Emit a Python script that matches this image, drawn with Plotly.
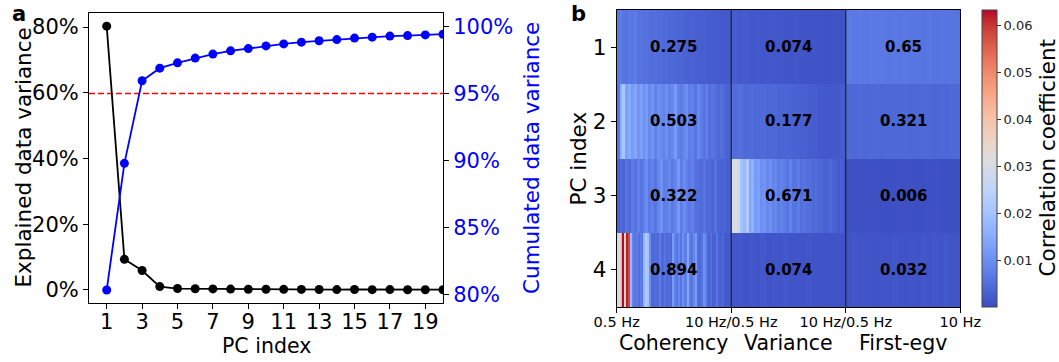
import numpy as np
import plotly.graph_objects as go

W, H = 1059, 362
FONT = "DejaVu Sans"

# ---------------- panel a data ----------------
pc_index = list(range(1, 21))
explained_pct = [80.3, 9.3, 5.9, 1.0, 0.4, 0.35, 0.3, 0.24, 0.17, 0.2,
                 0.15, 0.13, 0.1, 0.09, 0.11, 0.07, 0.08, 0.05, 0.05, 0.05]
cumulated_pct = [80.37, 89.8, 95.95, 96.89, 97.29, 97.64, 97.94, 98.18, 98.35, 98.55,
                 98.70, 98.83, 98.93, 99.02, 99.13, 99.20, 99.28, 99.32, 99.37, 99.42]
threshold_pct = 95
x_ticks_a = [1, 3, 5, 7, 9, 11, 13, 15, 17, 19]
y_ticks_left = [0, 20, 40, 60, 80]
y_ticks_right = [80, 85, 90, 95, 100]

# ---------------- panel b data ----------------
pc_rows = [1, 2, 3, 4]
feature_names = ["Coherency", "Variance", "First-egv"]
freq_tick_labels = ["0.5 Hz", "10 Hz/0.5 Hz", "10 Hz/0.5 Hz", "10 Hz"]

coherency_pc1 = [0.0065, 0.0072, 0.006, 0.0058, 0.0066, 0.0062, 0.007, 0.0055, 0.0058, 0.0052,
                 0.0056, 0.005, 0.0048, 0.0052, 0.0045, 0.0047, 0.0042, 0.0044, 0.004, 0.0041,
                 0.0038, 0.0036, 0.0037, 0.0033, 0.0032, 0.003, 0.0031, 0.0028, 0.0027, 0.0026,
                 0.0025, 0.0024, 0.0023, 0.0022, 0.0022, 0.0021, 0.002, 0.002, 0.0019, 0.0019]
variance_pc1 = [0.0025, 0.002, 0.0022, 0.0018, 0.002, 0.0016, 0.0017, 0.0015, 0.0016, 0.0014,
                0.0013, 0.0014, 0.0012, 0.0012, 0.0011, 0.0012, 0.001, 0.001, 0.0011, 0.001]
egv_pc1 = [0.0068, 0.0066, 0.0069, 0.0064, 0.0067, 0.0065, 0.0066, 0.0063, 0.0065, 0.0062,
           0.0064, 0.0061, 0.0063, 0.006, 0.0062, 0.006, 0.0061, 0.0059, 0.006, 0.0058]

coherency_pc2 = [0.006, 0.016, 0.021, 0.013, 0.015, 0.012, 0.014, 0.011, 0.013, 0.01,
                 0.012, 0.009, 0.011, 0.008, 0.01, 0.009, 0.008, 0.01, 0.008, 0.009,
                 0.012, 0.008, 0.007, 0.009, 0.01, 0.007, 0.008, 0.006, 0.009, 0.007,
                 0.006, 0.008, 0.005, 0.006, 0.005, 0.004, 0.005, 0.004, 0.003, 0.003]
variance_pc2 = [0.0045, 0.005, 0.0042, 0.0046, 0.004, 0.0043, 0.0038, 0.004, 0.0035, 0.0036,
                0.0032, 0.003, 0.0028, 0.0026, 0.0024, 0.002, 0.0018, 0.0017, 0.0019, 0.0022]
egv_pc2 = [0.0042, 0.004, 0.0044, 0.0039, 0.0041, 0.0043, 0.0038, 0.004, 0.0042, 0.0039,
           0.0041, 0.0038, 0.004, 0.0042, 0.0039, 0.0037, 0.004, 0.0038, 0.0041, 0.0039]

coherency_pc3 = [0.003, 0.0045, 0.0035, 0.006, 0.0045, 0.007, 0.0055, 0.008, 0.006, 0.0075,
                 0.0095, 0.0065, 0.008, 0.006, 0.0085, 0.0105, 0.007, 0.0075, 0.009, 0.0065,
                 0.0085, 0.0115, 0.007, 0.0095, 0.0075, 0.0065, 0.008, 0.0055, 0.005, 0.0045,
                 0.006, 0.004, 0.0045, 0.0035, 0.0055, 0.0035, 0.003, 0.0035, 0.0025, 0.003]
variance_pc3 = [0.029, 0.031, 0.028, 0.02, 0.018, 0.022, 0.014, 0.016, 0.012, 0.013,
                0.01, 0.011, 0.009, 0.01, 0.008, 0.009, 0.007, 0.008, 0.007, 0.006,
                0.008, 0.006, 0.006, 0.007, 0.005, 0.006, 0.005, 0.005, 0.004, 0.005,
                0.004, 0.004, 0.003, 0.003, 0.004, 0.003, 0.003, 0.002, 0.003, 0.002]
egv_pc3 = [0.0007, 0.0006, 0.0007, 0.0005, 0.0006, 0.0006, 0.0005, 0.0006, 0.0005, 0.0005]

coherency_pc4 = [0.030, 0.034, 0.045, 0.063, 0.036, 0.062, 0.058, 0.018, 0.008, 0.006,
                 0.007, 0.005, 0.007, 0.006, 0.017, 0.022, 0.02, 0.01, 0.004, 0.004,
                 0.005, 0.004, 0.007, 0.004, 0.004, 0.006, 0.004, 0.005, 0.004, 0.012,
                 0.008, 0.006, 0.009, 0.006, 0.01, 0.007, 0.008, 0.014, 0.007, 0.006,
                 0.009, 0.012, 0.005, 0.004, 0.006, 0.01, 0.008, 0.004, 0.003, 0.005,
                 0.003, 0.003, 0.006, 0.003, 0.003, 0.004, 0.002, 0.002, 0.002, 0.002]
variance_pc4 = [0.0014, 0.0016, 0.0012, 0.0015, 0.0013, 0.0017, 0.0012, 0.0014, 0.0013, 0.0015,
                0.0011, 0.0013, 0.0012, 0.0014, 0.0011, 0.0012, 0.001, 0.0012, 0.0011, 0.001]
egv_pc4 = [0.0012, 0.0014, 0.0011, 0.0013, 0.0012, 0.0011, 0.0013, 0.0012, 0.0014, 0.0011,
           0.0012, 0.0013, 0.0011, 0.0015, 0.0012, 0.0014, 0.0011, 0.0016, 0.0012, 0.0013]

overall_corr = [[0.275, 0.074, 0.65],
                [0.503, 0.177, 0.321],
                [0.322, 0.671, 0.006],
                [0.894, 0.074, 0.032]]
cbar_ticks = [0.01, 0.02, 0.03, 0.04, 0.05, 0.06]
c_min, c_max = 0.0, 0.0634

blocks = [[coherency_pc1, variance_pc1, egv_pc1],
          [coherency_pc2, variance_pc2, egv_pc2],
          [coherency_pc3, variance_pc3, egv_pc3],
          [coherency_pc4, variance_pc4, egv_pc4]]

coolwarm_rgb = [(59, 76, 192), (68, 90, 204), (77, 104, 215), (87, 117, 225), (98, 130, 234),
                (108, 142, 241), (119, 154, 247), (130, 165, 251), (141, 176, 254), (152, 185, 255),
                (163, 194, 255), (174, 201, 253), (184, 208, 249), (194, 213, 244), (204, 217, 238),
                (213, 219, 230), (221, 221, 221), (229, 216, 209), (236, 211, 197), (241, 204, 185),
                (245, 196, 173), (247, 187, 160), (247, 177, 148), (247, 166, 135), (244, 154, 123),
                (241, 141, 111), (236, 127, 99), (229, 112, 88), (222, 96, 77), (213, 80, 66),
                (203, 62, 56), (192, 40, 47), (180, 4, 38)]
coolwarm = [[i / (len(coolwarm_rgb) - 1), "rgb(%d,%d,%d)" % c] for i, c in enumerate(coolwarm_rgb)]


def px(x):
    return x / W


def py(y):
    return 1 - y / H


# common fine grid per block: each measured column is repeated to fill it
COLS_PER_BLOCK = 120
z_rows = []
for row in blocks:
    full = []
    for arr in row:
        full.extend(np.repeat(arr, COLS_PER_BLOCK // len(arr)).tolist())
    z_rows.append(full)
x_edges = np.linspace(0, 3, 3 * COLS_PER_BLOCK + 1)
y_edges = [pc - 0.5 for pc in pc_rows] + [pc_rows[-1] + 0.5]

fig = go.Figure()

# ---- panel a ----
fig.add_trace(go.Scatter(x=pc_index, y=explained_pct, mode="lines+markers",
                         line=dict(color="black", width=1.8),
                         marker=dict(color="black", size=9), xaxis="x", yaxis="y",
                         showlegend=False))
fig.add_trace(go.Scatter(x=pc_index, y=cumulated_pct, mode="lines+markers",
                         line=dict(color="blue", width=1.8),
                         marker=dict(color="blue", size=9), xaxis="x", yaxis="y2",
                         showlegend=False))

# ---- panel b ----
fig.add_trace(go.Heatmap(z=z_rows, x=x_edges, y=y_edges, coloraxis="coloraxis",
                         xaxis="x2", yaxis="y3", hoverinfo="skip"))


def label(xp, yp, text, size, color="black", angle=0):
    return dict(x=px(xp), y=py(yp), xref="paper", yref="paper", text=text,
                textangle=angle, showarrow=False, xanchor="center", yanchor="middle",
                font=dict(family=FONT, size=size, color=color))


annotations = []
for r, row in enumerate(overall_corr):
    for b, v in enumerate(row):
        annotations.append(dict(x=b + 0.5, y=pc_rows[r], xref="x2", yref="y3",
                                text="<b>%g</b>" % v, showarrow=False,
                                xanchor="center", yanchor="middle",
                                font=dict(family=FONT, size=15, color="black")))
for b, name in enumerate(feature_names):
    cx = 616.7 + (b + 0.5) * (960.3 - 616.7) / 3
    annotations.append(label(cx, 343, name, 20.5))

# axis titles & panel letters
annotations += [
    label(22.5, 158, "Explained data variance", 21.5, angle=-90),
    label(531, 158, "Cumulated data variance", 21.5, color="blue", angle=-90),
    label(266, 345.5, "PC index", 20.5),
    label(578, 158.5, "PC index", 21.5, angle=-90),
    label(1047, 158.5, "Correlation coefficient", 21.5, angle=-90),
    label(19, 13.5, "<b>a</b>", 21),
    label(578, 13.5, "<b>b</b>", 21),
]

shapes = [
    dict(type="line", xref="x domain", yref="y2", x0=0, x1=1, y0=threshold_pct, y1=threshold_pct,
         line=dict(color="red", width=1.5, dash="6px,3px"), layer="below"),
]
for b in [1, 2]:
    shapes.append(dict(type="line", xref="x2", yref="y3 domain", x0=b, x1=b, y0=0, y1=1,
                       line=dict(color="#222222", width=1.2)))

axis_common = dict(showgrid=False, zeroline=False, showline=True, linecolor="black",
                   linewidth=1, ticks="outside", ticklen=5, tickcolor="black",
                   automargin=False)

fig.update_layout(
    width=W, height=H,
    margin=dict(l=0, r=0, t=0, b=0, autoexpand=False),
    paper_bgcolor="white", plot_bgcolor="white",
    font=dict(family=FONT, color="black"),
    showlegend=False,
    xaxis=dict(domain=[px(89), px(443)], anchor="y", range=[0, 20], tickvals=x_ticks_a,
               mirror=True, tickfont=dict(size=21), ticklabelstandoff=-5, **axis_common),
    yaxis=dict(domain=[py(303), py(13)], anchor="x", range=[-4.0, 84.3], tickvals=y_ticks_left,
               ticktext=["%d%%" % v for v in y_ticks_left], tickfont=dict(size=21),
               **axis_common),
    yaxis2=dict(overlaying="y", side="right", anchor="x", range=[79.4, 101.0],
                tickvals=y_ticks_right, ticktext=["%d%%" % v for v in y_ticks_right],
                tickfont=dict(size=21, color="blue"), **axis_common),
    xaxis2=dict(domain=[px(616.7), px(960.3)], anchor="y3", range=[0, 3],
                tickvals=[0, 1, 2, 3], ticktext=freq_tick_labels, mirror=True,
                tickfont=dict(size=14.5), ticklabelstandoff=-3, **axis_common),
    yaxis3=dict(domain=[py(307), py(10)], anchor="x2", range=[4.5, 0.5],
                tickvals=pc_rows, mirror=True, tickfont=dict(size=21.5), **axis_common),
    coloraxis=dict(colorscale=coolwarm, cmin=c_min, cmax=c_max,
                   colorbar=dict(thickness=15, thicknessmode="pixels", len=297, lenmode="pixels",
                                 x=px(981.7), xanchor="left", y=py(158.5), yanchor="middle",
                                 xpad=0, ypad=0, outlinewidth=1, outlinecolor="#444444",
                                 tickvals=cbar_ticks, tickformat=".2f", ticks="outside",
                                 ticklen=4, tickcolor="#333333",
                                 tickfont=dict(family=FONT, size=13, color="#222222"))),
    annotations=annotations,
    shapes=shapes,
)

fig.write_html("out.html", config={"displayModeBar": False},
               post_script="document.body.style.margin='0';document.body.style.overflow='hidden';")
